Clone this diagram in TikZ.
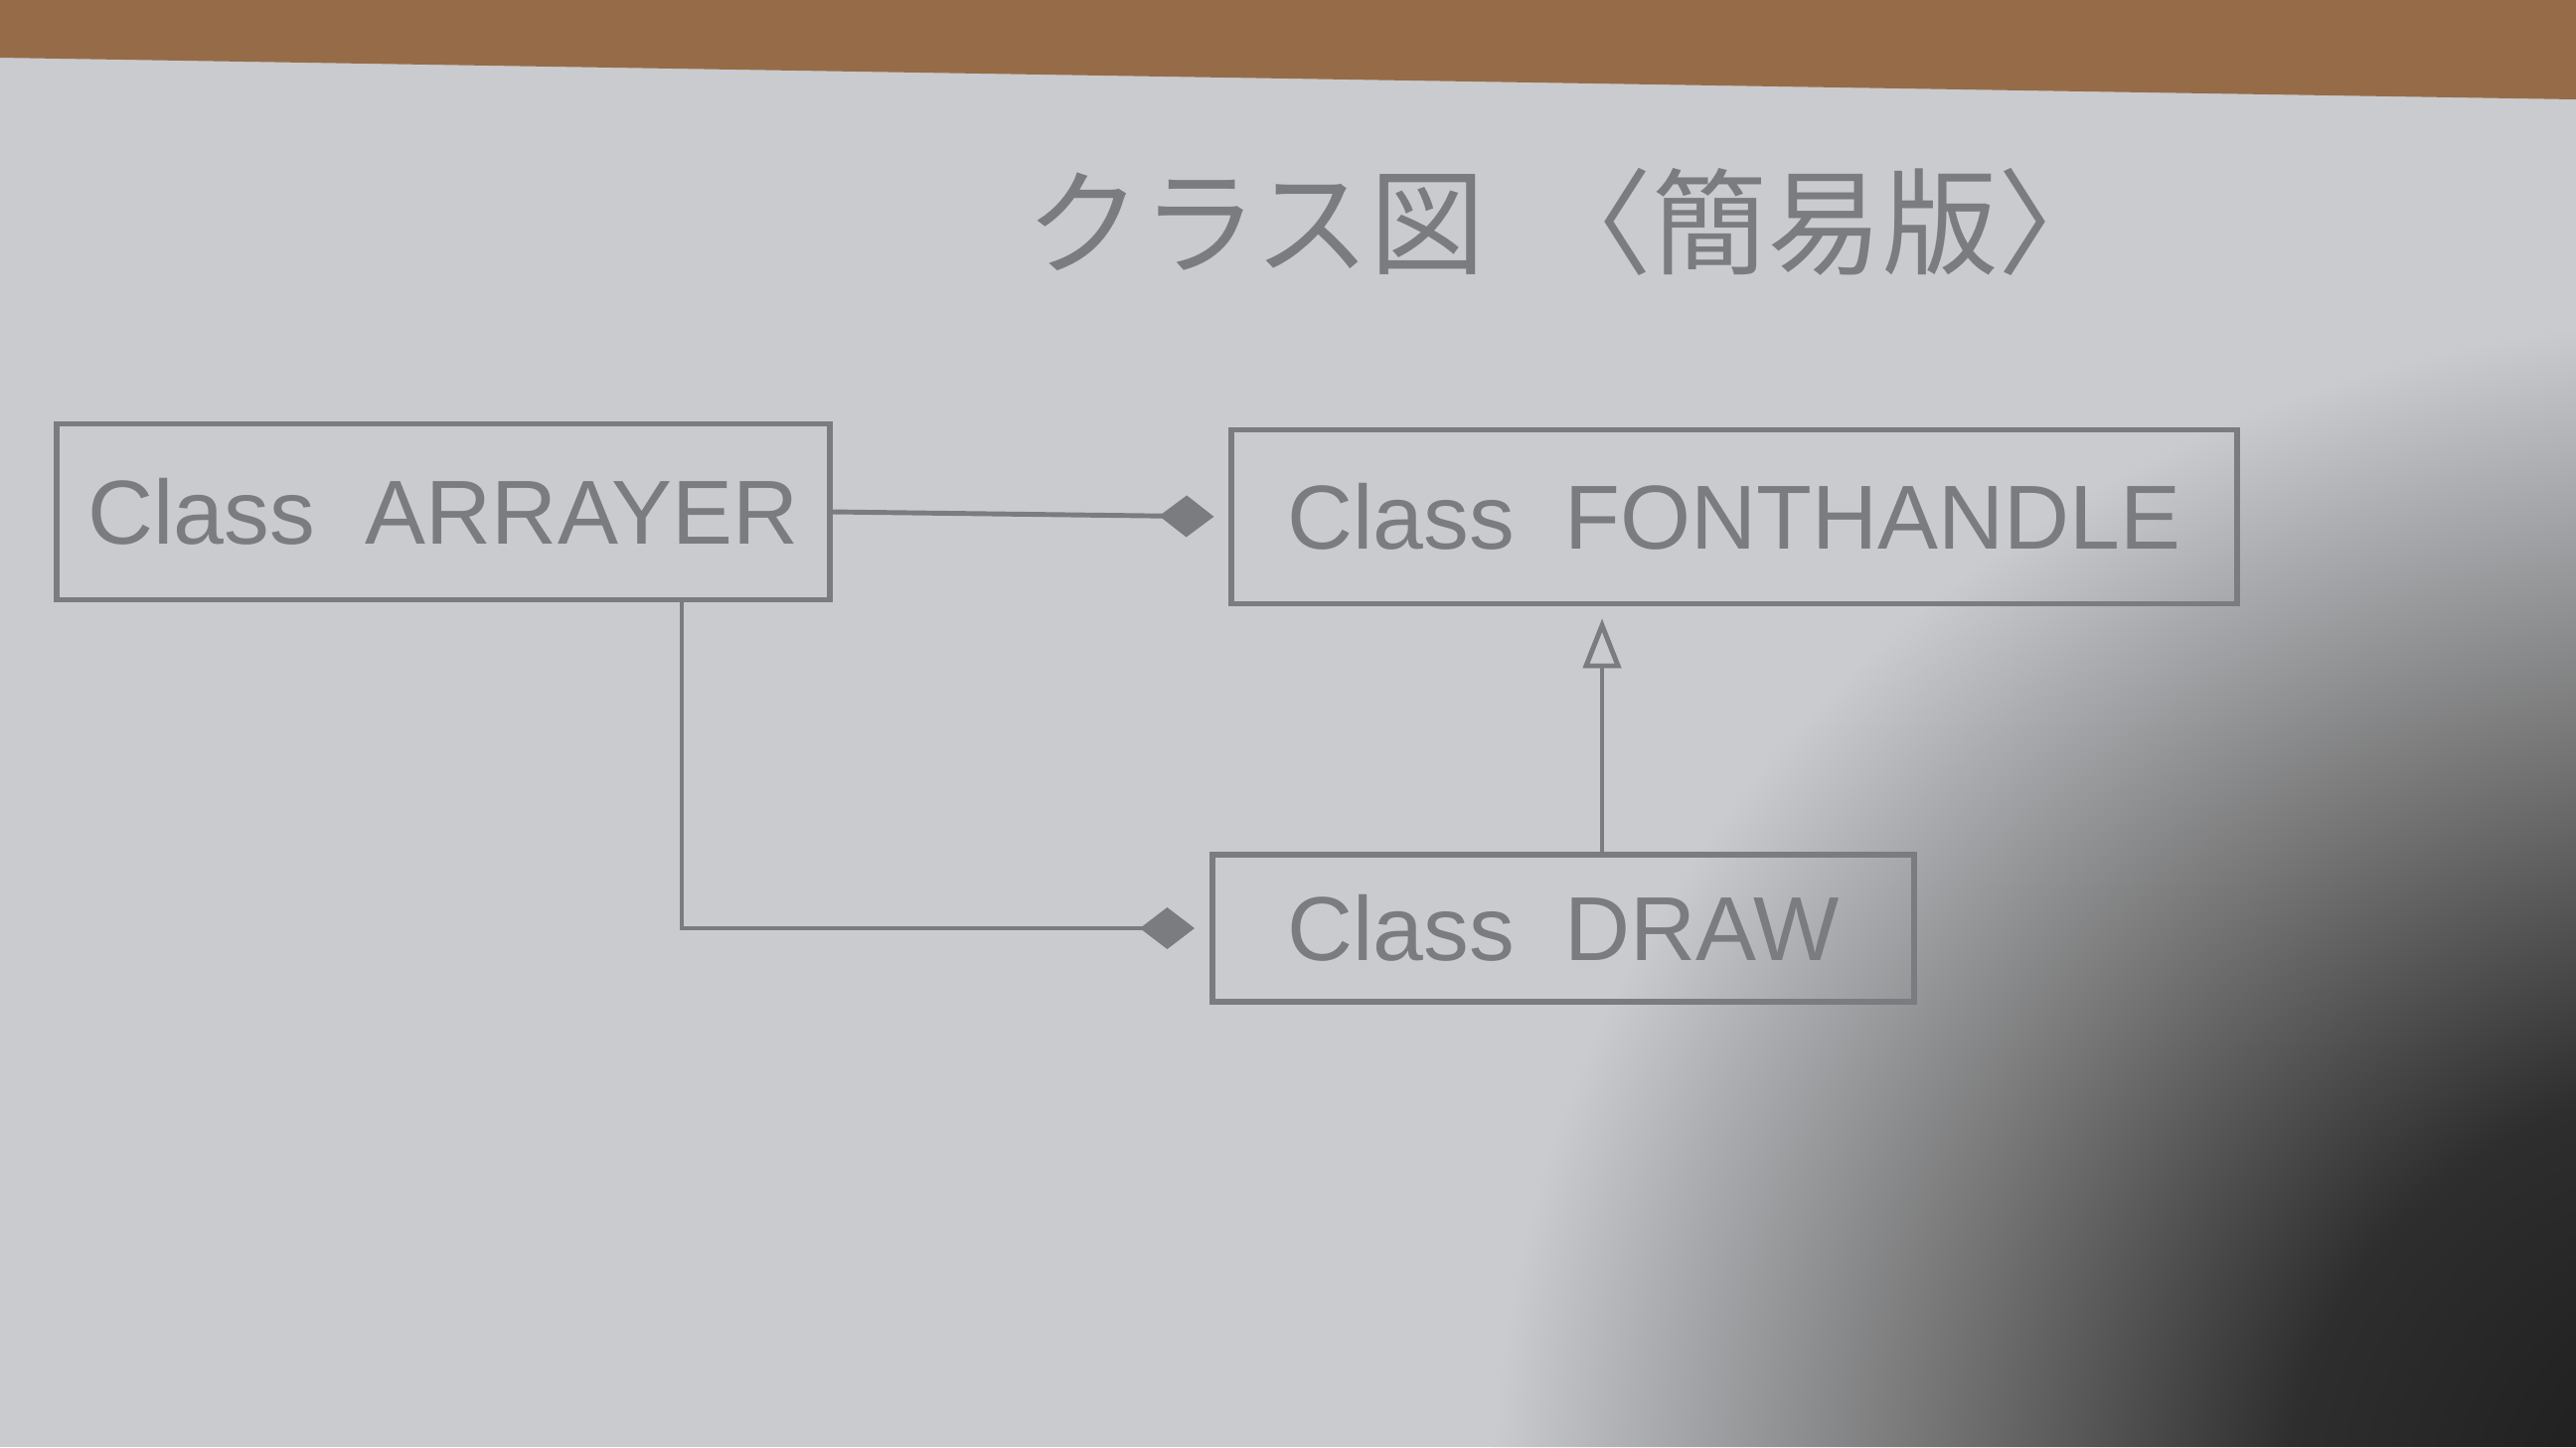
\documentclass[tikz,border=0pt]{standalone}
\usepackage{fontspec}
\setmainfont{Liberation Sans}
\newfontfamily\jpfont{Noto Sans CJK JP}
\usetikzlibrary{positioning, arrows.meta}

\definecolor{paper}{RGB}{201,203,207}
\definecolor{pencil}{RGB}{122,124,128}
\definecolor{desk}{RGB}{150,108,72}

\pgfdeclareradialshading{shadowfall}{\pgfpoint{0bp}{0bp}}{%
    color(0bp)=(black!90); color(9bp)=(black!82); color(16bp)=(black!55);
    color(22bp)=(paper!85!black); color(25bp)=(paper); color(50bp)=(paper)}

\begin{document}
\begin{tikzpicture}[x=0.01cm, y=-0.01cm,
        classbox/.style={draw=pencil, line width=1.6pt, text=pencil, inner sep=0pt,
            font=\fontsize{26}{28}\selectfont},
        conn/.style={draw=pencil, line width=1.4pt},
        compos/.style={conn, -{Diamond[length=0.55cm, width=0.42cm, fill=pencil]}, shorten >=0.15cm},
        inherit/.style={conn, -{Triangle[open, length=0.5cm, width=0.38cm, fill=paper]}, shorten >=0.12cm}]

        \fill[paper] (0,0) rectangle (2592,1456);
        \fill[desk] (0,0) -- (2592,0) -- (2592,100) -- (0,58) -- cycle;
        \begin{scope}
            \clip (0,58) -- (2592,100) -- (2592,1456) -- (0,1456) -- cycle;
            \shade[shading=shadowfall] (2750,1520) ellipse (1250 and 1200);
        \end{scope}

        \node[text=pencil, font=\jpfont\fontsize{33}{35}\selectfont] (title) at (1580,223) {クラス図\ \ 〈簡易版〉};

        \node[classbox, minimum width=7.77cm, minimum height=1.77cm] (arrayer) at (446,515) {Class\ \ ARRAYER};
        \node[classbox, minimum width=10.11cm, minimum height=1.75cm] (fonthandle) at (1745,520) {Class\ \ FONTHANDLE};
        \node[classbox, minimum width=7.06cm, minimum height=1.48cm] (drawcls) at (1573,934) {Class\ \ DRAW};

        \draw[compos] (arrayer.east) -- (fonthandle.west);
        \draw[compos] (arrayer.south -| 686,0) |- (drawcls.west);
        \draw[inherit] (drawcls.north -| 1612,0) -- (fonthandle.south -| 1612,0);

\end{tikzpicture}
\end{document}
